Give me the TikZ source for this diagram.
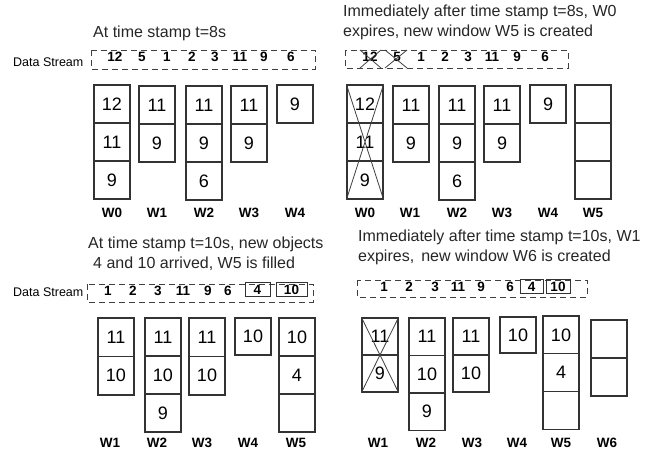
\documentclass[tikz,border=0pt]{standalone}
\usepackage{fontspec}
\setmainfont{Liberation Sans}
\begin{document}
\begin{tikzpicture}[x=1pt,y=-1pt,
  cell/.style={draw=black!80,line width=1.1pt,minimum width=36pt,inner sep=0pt,font=\fontsize{18}{18}\selectfont},
  wlab/.style={font=\fontsize{13.5}{13.5}\selectfont\bfseries,inner sep=0pt},
  head/.style={font=\fontsize{16}{20}\selectfont,inner sep=0pt,anchor=west,text=black!85},
  dslab/.style={font=\fontsize{12.5}{12.5}\selectfont,inner sep=0pt,anchor=west},
  snum/.style={font=\fontsize{13.5}{13.5}\selectfont\bfseries,inner sep=0pt},
  dbox/.style={draw=black!75,line width=0.9pt,dash pattern=on 6pt off 4pt},
  sbox/.style={draw=black!80,line width=1pt,inner sep=0pt},
  xline/.style={draw=black!75,line width=0.8pt}]
\useasboundingbox (0,0) rectangle (645,454);
\newcommand\wcol[5]{% prefix, x-left, y-top, cell height, contents
  \foreach \c [count=\i] in {#5} {
    \node[cell,minimum height=#4 pt] (#1-\i) at ({#2+18},{#3+#4*\i-#4/2}) {\c};
  }}
% ---------------- top-left ----------------
\node[head] (h1) at (93,33) {At time stamp t=8s};
\node[dslab] (ds1) at (13,62) {Data Stream};
\draw[dbox] (91,50) rectangle (315,69);
\foreach \v/\x [count=\k] in {12/115,5/142,1/167,2/192,3/215,11/240,9/264,6/291}
  \node[snum] (a\k) at (\x,57) {\v};
\wcol{aw0}{94}{85}{38}{12,11,9}
\wcol{aw1}{139}{86}{38}{11,9}
\wcol{aw2}{186}{86}{38}{11,9,6}
\wcol{aw3}{231}{86}{38}{11,9}
\wcol{aw4}{277}{85}{38}{9}
\foreach \n/\x in {0/112,1/157,2/204,3/249,4/295}
  \node[wlab] (al\n) at (\x,213) {W\n};
% ---------------- top-right ----------------
\node[head,align=left,anchor=north west] (h2) at (343,5) {Immediately after time stamp t=8s, W0\\expires, new window W5 is created};
\draw[dbox] (345,50) rectangle (568,68);
\foreach \v/\x [count=\k] in {12/370,5/397,1/421,2/445,3/468,11/492,9/517,6/545}
  \node[snum] (b\k) at (\x,57) {\v};
\draw[xline] (360,50) -- (381,68) (381,50) -- (360,68);
\draw[xline] (385,50) -- (407,68) (407,50) -- (385,68);
\wcol{bw0}{347}{85}{38}{12,11,9}
\wcol{bw1}{393}{86}{38}{11,9}
\wcol{bw2}{439}{86}{38}{11,9,6}
\wcol{bw3}{484}{86}{38}{11,9}
\wcol{bw4}{530}{85}{38}{9}
\wcol{bw5}{575}{85}{38}{{},{},{}}
\draw[xline] (bw0-1.north west) -- (bw0-3.south east) (bw0-1.north east) -- (bw0-3.south west);
\foreach \n/\x in {0/365,1/410,2/457,3/502,4/548,5/593}
  \node[wlab] (bl\n) at (\x,213) {W\n};
% ---------------- bottom-left ----------------
\node[head,align=left,anchor=north west] (h3) at (88,237) {At time stamp t=10s, new objects\\\hspace*{5pt}4 and 10 arrived, W5 is filled};
\node[dslab] (ds3) at (13,292) {Data Stream};
\draw[dbox] (87,284) rectangle (313,302);
\foreach \v/\x [count=\k] in {1/108,2/133,3/158,11/183,9/208,6/228}
  \node[snum] (c\k) at (\x,291) {\v};
\node[sbox,minimum width=25pt,minimum height=14pt,snum] (c7) at (257.5,289.5) {4};
\node[sbox,minimum width=31pt,minimum height=14pt,snum] (c8) at (291.5,289.5) {10};
\wcol{cw1}{98}{318}{38.5}{11,10}
\wcol{cw2}{145}{318}{38}{11,10,9}
\wcol{cw3}{189}{318}{38.5}{11,10}
\wcol{cw4}{235}{318}{37}{10}
\wcol{cw5}{279}{318}{38}{10,4,{}}
\foreach \n/\x in {1/110,2/157,3/202,4/248,5/296}
  \node[wlab] (cl\n) at (\x,443) {W\n};
% ---------------- bottom-right ----------------
\node[head,align=left,anchor=north west] (h4) at (358,230) {Immediately after time stamp t=10s, W1\\expires,\, new window W6 is created};
\draw[dbox] (357,280) rectangle (587,297);
\foreach \v/\x [count=\k] in {1/384,2/409,3/435,11/458,9/481,6/510}
  \node[snum] (d\k) at (\x,287) {\v};
\node[sbox,minimum width=23pt,minimum height=14pt,snum] (d7) at (531.5,287) {4};
\node[sbox,minimum width=24pt,minimum height=14pt,snum] (d8) at (558,287) {10};
\wcol{dw1}{362}{318}{37}{11,9}
\wcol{dw2}{409}{318}{37.5}{11,10,9}
\wcol{dw3}{453}{318}{37}{11,10}
\wcol{dw4}{500}{317}{36}{10}
\wcol{dw5}{543}{316}{37.7}{10,4,{}}
\wcol{dw6}{591}{320}{38}{{},{}}
\draw[xline] (dw1-1.north west) -- (dw1-2.south east) (dw1-1.north east) -- (dw1-2.south west);
\foreach \n/\x in {1/378,2/426,3/472,4/517,5/561,6/607}
  \node[wlab] (dl\n) at (\x,443) {W\n};
\end{tikzpicture}
\end{document}
